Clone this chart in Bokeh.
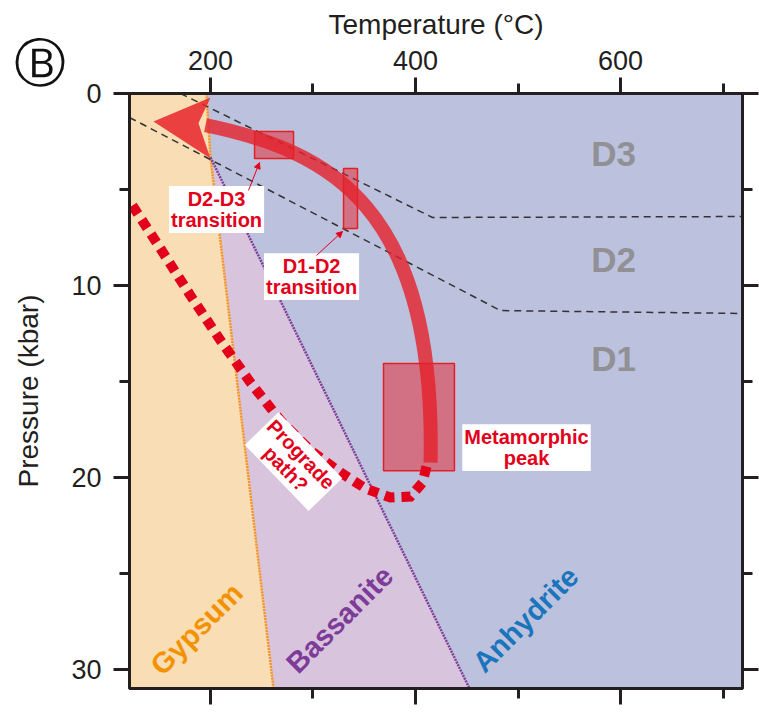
from bokeh.plotting import figure
from bokeh.models import Range1d, LinearAxis, FixedTicker, Label, Arrow, NormalHead, Div
from bokeh.layouts import column
from bokeh.embed import file_html
from bokeh.resources import INLINE

# ---------------- data ----------------
T_MIN, T_MAX = 121, 719
P_MIN, P_MAX = 0, 31
x_ticks = [200, 400, 600]
x_minor = [300, 500, 700]
y_ticks = [0, 10, 20, 30]
y_minor = [5, 15, 25]

# phase boundaries
gyp_T = [196, 200, 261.5]          # gypsum / bassanite(anhydrite)
gyp_P = [0, 3.33, 31]
bas_T = [200, 452.7]               # bassanite / anhydrite
bas_P = [3.33, 31]

# deformation-stage boundaries
d3_T = [170.8, 416.6, 719]
d3_P = [0, 6.46, 6.41]
d2_T = [121, 483, 719]
d2_P = [1.25, 11.31, 11.46]

# retrograde path (cubic Bezier: start, end, two control points)
retro_T0, retro_P0 = 195.1, 1.65
retro_T1, retro_P1 = 414.7, 19.23
retro_cT0, retro_cP0 = 317.0, 3.0
retro_cT1, retro_cP1 = 420.0, 5.9
head_T = [144.4, 200, 188.3, 200]
head_P = [1.46, 0.21, 1.55, 3.39]

# prograde path (dotted)
pro_T = [123.9, 151.2, 180.5, 209.8, 239.0, 268.3, 297.6, 326.9, 351.2, 375.6, 395.1, 406.9, 411.7]
pro_P = [5.84, 8.08, 10.53, 12.87, 15.06, 17.04, 18.6, 19.75, 20.58, 21.05, 21.0, 20.27, 19.23]

# P-T boxes: left, right, top, bottom
box_left = [243, 329.8, 368.8]
box_right = [281, 343.4, 438]
box_top = [1.98, 3.91, 14.07]
box_bottom = [3.39, 7.03, 19.65]

# labels
stage_names = ["D3", "D2", "D1"]
stage_T = [593.2, 593.2, 593.2]
stage_P = [3.15, 8.65, 13.8]

phase_names = ["Gypsum", "Bassanite", "Anhydrite"]
phase_T = [186.4, 325.9, 507.3]
phase_P = [27.9, 27.4, 27.4]
phase_colors = ["#F39200", "#7D3C98", "#1B75BC"]

note_texts = ["D2-D3\ntransition", "D1-D2\ntransition", "Metamorphic\npeak"]
note_T = [205.9, 298.6, 508.3]
note_P = [6.04, 9.54, 18.45]
prograde_text = "Prograde\npath?"
prograde_T, prograde_P = 281.0, 19.18

ptr_start_T = [237.1, 303.4]
ptr_start_P = [5.05, 8.44]
ptr_end_T = [247.8, 328.8]
ptr_end_P = [3.6, 7.19]

panel_letter = "Ⓑ"

# ---------------- styles ----------------
GYP_FILL = "#F9DDB5"
BAS_FILL = "#D9C4DE"
ANH_FILL = "#BCC2DD"
RED = "#E3001B"
AX = "#231F20"
FONT = "Liberation Sans"

p = figure(width=759, height=712,
           x_range=Range1d(T_MIN, T_MAX), y_range=Range1d(P_MAX, P_MIN),
           x_axis_location="above",
           output_backend="svg", toolbar_location=None,
           min_border_left=129, min_border_right=17,
           min_border_top=93, min_border_bottom=24,
           background_fill_color=ANH_FILL,
           border_fill_color="white")
p.grid.visible = False
p.outline_line_color = AX
p.outline_line_width = 3


def style_axis(ax, labels=True):
    ax.axis_line_color = AX
    ax.axis_line_width = 3
    ax.major_tick_line_color = AX
    ax.major_tick_line_width = 3
    ax.minor_tick_line_color = AX
    ax.minor_tick_line_width = 3
    ax.major_tick_out = 16
    ax.major_tick_in = 0
    ax.minor_tick_out = 10
    ax.minor_tick_in = 0
    ax.major_label_text_font = FONT
    ax.major_label_text_color = AX
    ax.axis_label_text_font = FONT
    ax.axis_label_text_font_style = "normal"
    ax.axis_label_text_color = AX
    if labels:
        ax.major_label_text_font_size = "27px"
        ax.axis_label_text_font_size = "28px"
    else:
        ax.major_label_text_font_size = "0px"
        ax.major_label_standoff = 0


xt = FixedTicker(ticks=x_ticks, minor_ticks=x_minor)
yt = FixedTicker(ticks=y_ticks, minor_ticks=y_minor)

top_ax = p.xaxis[0]
top_ax.ticker = xt
top_ax.axis_label = "Temperature (°C)"
style_axis(top_ax)
top_ax.major_label_standoff = 8
top_ax.axis_label_standoff = 8

left_ax = p.yaxis[0]
left_ax.ticker = yt
left_ax.axis_label = "Pressure (kbar)"
style_axis(left_ax)
left_ax.major_label_standoff = 12
left_ax.axis_label_standoff = 24

bottom_ax = LinearAxis(ticker=FixedTicker(ticks=x_ticks, minor_ticks=x_minor),
                       major_label_overrides={t: "" for t in x_ticks})
style_axis(bottom_ax, labels=False)
p.add_layout(bottom_ax, "below")
right_ax = LinearAxis(ticker=FixedTicker(ticks=y_ticks, minor_ticks=y_minor),
                      major_label_overrides={t: "" for t in y_ticks})
style_axis(right_ax, labels=False)
p.add_layout(right_ax, "right")

# ---------------- phase fields ----------------
gx = [T_MIN] + gyp_T + [T_MIN]
gy = [gyp_P[0]] + gyp_P + [gyp_P[-1]]
p.patch(gx, gy, fill_color=GYP_FILL, line_color=None)
bx = gyp_T[1:] + bas_T[::-1]
by = gyp_P[1:] + bas_P[::-1]
p.patch(bx, by, fill_color=BAS_FILL, line_color=None)

p.line(gyp_T, gyp_P, line_color="#F7941D", line_width=2.5, line_dash="2 1")
p.line(bas_T, bas_P, line_color="#7E3F98", line_width=2.5, line_dash="2 1")

# stage boundaries
p.line(d3_T, d3_P, line_color="#333333", line_width=1.5, line_dash="7 5")
p.line(d2_T, d2_P, line_color="#333333", line_width=1.5, line_dash="7 5")

# boxes
p.quad(left=box_left, right=box_right, top=box_top, bottom=box_bottom,
       fill_color="#E8202A", fill_alpha=0.5, line_color="#E31E24", line_width=1.5)

# retrograde arrow
p.bezier(x0=[retro_T0], y0=[retro_P0], x1=[retro_T1], y1=[retro_P1],
         cx0=[retro_cT0], cy0=[retro_cP0], cx1=[retro_cT1], cy1=[retro_cP1],
         line_color="#E5202A", line_alpha=0.8, line_width=14, line_cap="butt")
p.patch(head_T, head_P, fill_color="#E8262C", fill_alpha=0.85, line_color=None)

# prograde dotted path
p.line(pro_T, pro_P, line_color=RED, line_width=10, line_dash="10 7",
       line_cap="butt", line_join="miter")

# stage labels
for name, t, pr in zip(stage_names, stage_T, stage_P):
    p.add_layout(Label(x=t, y=pr, text=name, text_align="center", text_baseline="middle",
                       text_font=FONT, text_font_style="bold", text_font_size="35px",
                       text_color="#909095"))

# phase labels
for name, t, pr, c in zip(phase_names, phase_T, phase_P, phase_colors):
    p.add_layout(Label(x=t, y=pr, text=name, text_align="center", text_baseline="middle",
                       angle=45, angle_units="deg",
                       text_font=FONT, text_font_style="bold", text_font_size="29px",
                       text_color=c))

# note labels
for txt, t, pr in zip(note_texts, note_T, note_P):
    p.add_layout(Label(x=t, y=pr, text=txt, text_align="center", text_baseline="middle",
                       text_font=FONT, text_font_style="bold", text_font_size="20px",
                       text_line_height=0.95, text_color=RED,
                       background_fill_color="white", padding=2))

p.add_layout(Label(x=prograde_T, y=prograde_P, text=prograde_text,
                   text_align="center", text_baseline="middle",
                   angle=-46, angle_units="deg",
                   text_font=FONT, text_font_style="bold", text_font_size="20px",
                   text_line_height=0.95, text_color=RED,
                   background_fill_color="white", padding=2))

for xs, ys, xe, ye in zip(ptr_start_T, ptr_start_P, ptr_end_T, ptr_end_P):
    p.add_layout(Arrow(x_start=xs, y_start=ys, x_end=xe, y_end=ye,
                       line_color=RED, line_width=1,
                       end=NormalHead(size=6, fill_color=RED, line_color=RED)))

# panel letter (outside the plot frame, so placed as an overlay element)
panel = Div(text=panel_letter, width=64, height=60,
            styles={"position": "absolute", "left": "3px", "top": "32px",
                    "font-family": "DejaVu Sans", "font-size": "52px",
                    "line-height": "1", "text-align": "center", "color": "#111111",
                    "z-index": "10"})

out = column(p, panel, spacing=0)
open("out.html", "w").write(file_html(out, INLINE))
